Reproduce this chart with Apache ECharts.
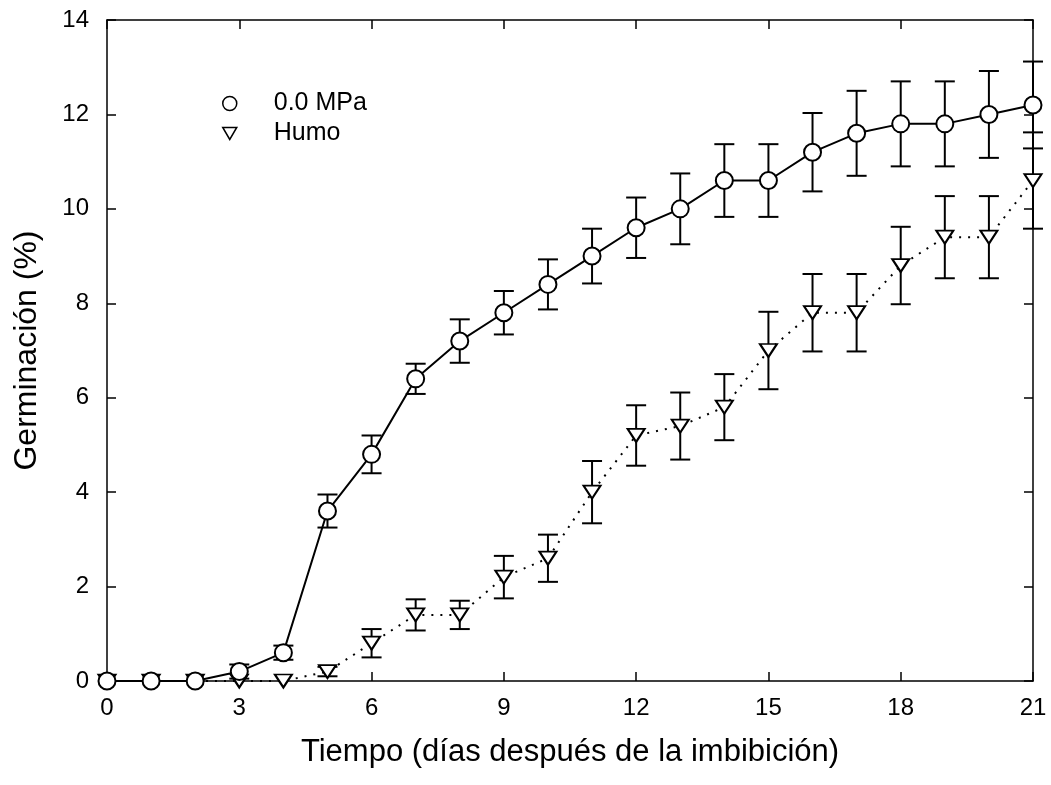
<!DOCTYPE html>
<html>
<head>
<meta charset="utf-8">
<script src="https://cdn.jsdelivr.net/npm/echarts@6/dist/echarts.min.js"></script>
<style>
html,body{margin:0;padding:0;background:#fff;}
#chart{width:1051px;height:785px;}
</style>
</head>
<body>
<div id="chart"></div>
<script>
var days = [0,1,2,3,4,5,6,7,8,9,10,11,12,13,14,15,16,17,18,19,20,21];
var mpaValues = [0,0,0,0.2,0.6,3.6,4.8,6.4,7.2,7.8,8.4,9.0,9.6,10.0,10.6,10.6,11.2,11.6,11.8,11.8,12.0,12.2];
var mpaErrors = [0,0,0,0.15,0.15,0.35,0.4,0.32,0.46,0.46,0.53,0.58,0.64,0.75,0.77,0.77,0.83,0.9,0.9,0.9,0.92,0.92];
var humoValues = [0,0,0,0,0,0.2,0.8,1.4,1.4,2.2,2.6,4.0,5.2,5.4,5.8,7.0,7.8,7.8,8.8,9.4,9.4,10.6];
var humoErrors = [0,0,0,0,0,0.1,0.3,0.33,0.3,0.45,0.5,0.66,0.64,0.71,0.7,0.82,0.82,0.82,0.82,0.87,0.87,1.02];
var xTicks = [0,3,6,9,12,15,18,21];
var yTicks = [0,2,4,6,8,10,12,14];
var seriesNames = ['0.0 MPa','Humo'];
var xTitle = 'Tiempo (días después de la imbibición)';
var yTitle = 'Germinación (%)';

var FONT = 'Liberation Sans, Arial, sans-serif';

function pairs(vals){ return days.map(function(d,i){ return [d, vals[i]]; }); }
function errData(vals, errs){
  var out = [];
  days.forEach(function(d,i){ if (errs[i] > 0) out.push([d, vals[i]-errs[i], vals[i]+errs[i]]); });
  return out;
}
function errRender(params, api){
  var x = api.value(0);
  var lo = api.coord([x, api.value(1)]);
  var hi = api.coord([x, api.value(2)]);
  var hw = 10;
  var st = {stroke:'#000', lineWidth:2, fill:null};
  return {type:'group', children:[
    {type:'line', shape:{x1:lo[0],y1:lo[1],x2:hi[0],y2:hi[1]}, style:st},
    {type:'line', shape:{x1:lo[0]-hw,y1:lo[1],x2:lo[0]+hw,y2:lo[1]}, style:st},
    {type:'line', shape:{x1:hi[0]-hw,y1:hi[1],x2:hi[0]+hw,y2:hi[1]}, style:st}
  ]};
}

var axisLine = {show:true, onZero:false, lineStyle:{color:'#000', width:1.5}};
var axisTick = {show:true, inside:true, length:9, lineStyle:{color:'#000', width:1.5}};

var chart = echarts.init(document.getElementById('chart'), null, {renderer:'canvas'});
chart.setOption({
  animation:false,
  backgroundColor:'#fff',
  grid:{left:107, right:18, top:20, bottom:104, containLabel:false},
  legend:{
    orient:'vertical', left:217, top:86, itemGap:5,
    itemWidth:14, itemHeight:14,
    textStyle:{fontFamily:FONT, fontSize:25, color:'#000', padding:[0,0,0,32]},
    data:[
      {name:seriesNames[0], icon:'circle', itemStyle:{color:'#fff', borderColor:'#000', borderWidth:1.5}},
      {name:seriesNames[1], icon:'path://M0,0L14,0L7,12Z', itemStyle:{color:'#fff', borderColor:'#000', borderWidth:1.5}}
    ]
  },
  xAxis:[
    {type:'value', min:0, max:21, interval:3, position:'bottom',
     name:xTitle, nameLocation:'middle', nameGap:56,
     nameTextStyle:{fontFamily:FONT, fontSize:31, color:'#000'},
     axisLine:axisLine, axisTick:axisTick, splitLine:{show:false},
     axisLabel:{fontFamily:FONT, fontSize:24, color:'#000', margin:15,
       formatter:function(v){ return xTicks.indexOf(v) >= 0 ? String(v) : ''; }}},
    {type:'value', min:0, max:21, interval:3, position:'top',
     axisLine:axisLine, axisTick:axisTick, splitLine:{show:false}, axisLabel:{show:false}}
  ],
  yAxis:[
    {type:'value', min:0, max:14, interval:2, position:'left',
     name:yTitle, nameLocation:'middle', nameGap:64, nameRotate:90,
     nameTextStyle:{fontFamily:FONT, fontSize:32, color:'#000'},
     axisLine:axisLine, axisTick:axisTick, splitLine:{show:false},
     axisLabel:{fontFamily:FONT, fontSize:24, color:'#000', margin:18,
       formatter:function(v){ return yTicks.indexOf(v) >= 0 ? String(v) : ''; }}},
    {type:'value', min:0, max:14, interval:2, position:'right',
     axisLine:axisLine, axisTick:axisTick, splitLine:{show:false}, axisLabel:{show:false}}
  ],
  series:[
    {type:'custom', name:'err1', renderItem:errRender, data:errData(mpaValues, mpaErrors), z:1, clip:false, silent:true},
    {type:'custom', name:'err2', renderItem:errRender, data:errData(humoValues, humoErrors), z:1, clip:false, silent:true},
    {type:'line', name:seriesNames[1], data:pairs(humoValues), z:3, clip:false,
     symbol:'triangle', symbolRotate:180, symbolSize:[17,13], showAllSymbol:true,
     lineStyle:{color:'#000', width:2, type:[2,7]},
     itemStyle:{color:'#fff', borderColor:'#000', borderWidth:2}},
    {type:'line', name:seriesNames[0], data:pairs(mpaValues), z:4, clip:false,
     symbol:'circle', symbolSize:17, showAllSymbol:true,
     lineStyle:{color:'#000', width:2, type:'solid'},
     itemStyle:{color:'#fff', borderColor:'#000', borderWidth:2}}
  ]
});
</script>
</body>
</html>
